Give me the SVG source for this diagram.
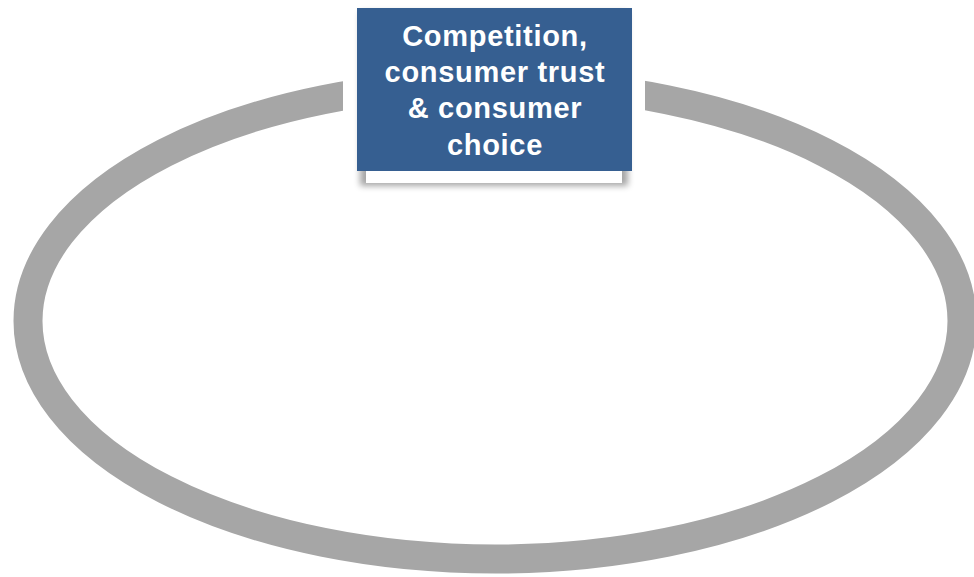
<svg xmlns="http://www.w3.org/2000/svg" width="974" height="577" viewBox="0 0 974 577">
  <defs>
    <filter id="shadow" x="-10%" y="-10%" width="120%" height="130%">
      <feGaussianBlur stdDeviation="3"/>
    </filter>
    <clipPath id="gap">
      <path d="M0 0 H343 V577 H0 Z M645 0 H974 V577 H645 Z M343 200 H645 V577 H343 Z"/>
    </clipPath>
  </defs>
  <style>
    .ring { fill: none; stroke: #A6A6A6; stroke-width: 29; }
    .box { fill: #365F91; }
    .label { font-family: "Liberation Sans", Arial, sans-serif; font-weight: bold; font-size: 29px; letter-spacing: 0.7px; fill: #FFFFFF; text-anchor: middle; }
  </style>
  <rect width="974" height="577" fill="#FFFFFF"/>
  <g id="connectors">
    <ellipse class="ring" cx="495" cy="321" rx="467" ry="238" clip-path="url(#gap)"/>
  </g>
  <g id="node-competition">
    <rect x="360" y="12" width="268" height="174" fill="#000000" opacity="0.35" filter="url(#shadow)"/>
    <rect x="366" y="160" width="256" height="23" fill="#FFFFFF"/>
    <rect class="box" x="357" y="8" width="275" height="163"/>
    <text class="label" x="495" y="46">Competition,</text>
    <text class="label" x="495" y="82">consumer trust</text>
    <text class="label" x="495" y="118">&amp; consumer</text>
    <text class="label" x="495" y="155">choice</text>
  </g>
</svg>
